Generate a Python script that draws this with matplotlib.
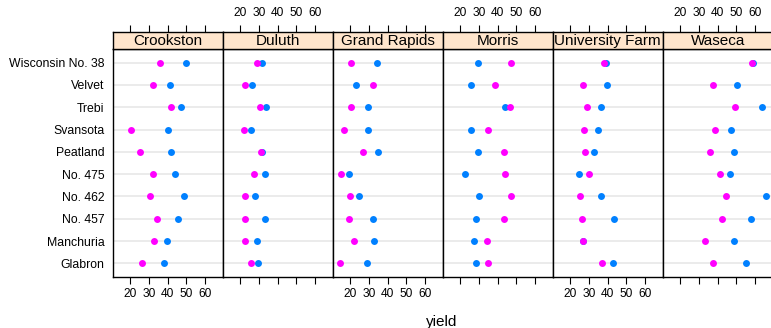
import matplotlib
matplotlib.use("Agg")
import matplotlib.pyplot as plt

plt.rcParams['font.family'] = ['Liberation Sans', 'DejaVu Sans']

# barley yields, varieties listed bottom -> top
varieties = ["Glabron", "Manchuria", "No. 457", "No. 462", "No. 475",
             "Peatland", "Svansota", "Trebi", "Velvet", "Wisconsin No. 38"]
sites = ["Crookston", "Duluth", "Grand Rapids", "Morris", "University Farm", "Waseca"]

# blue series (1931)
yield_1931 = {
    "Crookston":       [38.13, 39.93, 45.67, 48.57, 44.10, 41.60, 40.47, 46.93, 41.33, 49.87],
    "Duluth":          [29.67, 28.97, 33.60, 28.10, 33.07, 32.00, 25.70, 33.93, 26.30, 31.60],
    "Grand Rapids":    [29.13, 32.97, 32.17, 24.93, 19.70, 34.70, 29.67, 29.77, 23.03, 34.47],
    "Morris":          [28.77, 27.43, 28.70, 30.37, 22.60, 29.87, 25.77, 43.77, 26.13, 29.47],
    "University Farm": [43.07, 27.00, 43.27, 36.60, 24.67, 32.77, 35.13, 36.57, 39.90, 39.30],
    "Waseca":          [55.20, 48.87, 58.10, 65.77, 46.77, 48.57, 47.33, 63.83, 50.23, 58.80],
}
# magenta series (1932)
yield_1932 = {
    "Crookston":       [26.17, 32.97, 34.33, 30.53, 32.13, 25.23, 20.63, 41.83, 32.07, 35.90],
    "Duluth":          [25.87, 22.57, 22.70, 22.50, 27.37, 31.37, 22.23, 30.60, 22.47, 29.33],
    "Grand Rapids":    [14.43, 22.13, 19.47, 19.90, 15.23, 26.77, 16.63, 20.63, 32.23, 20.67],
    "Morris":          [35.13, 34.37, 43.53, 47.00, 44.23, 43.20, 35.03, 46.63, 38.83, 47.17],
    "University Farm": [36.80, 26.90, 26.43, 25.57, 30.00, 28.07, 27.43, 29.07, 26.80, 38.00],
    "Waseca":          [37.73, 33.47, 42.20, 44.70, 41.27, 36.03, 38.50, 49.23, 37.40, 58.17],
}
xticks = [20, 30, 40, 50, 60]

W, H = 771, 328
fig = plt.figure(figsize=(W / 100, H / 100), dpi=100)

left0, pw = 112.7, 110.0
strip_top, panel_top, panel_bot = 31.7, 49.3, 276.7
xlim = (10.8, 69.4)
ypos = list(range(1, len(varieties) + 1))

for i, site in enumerate(sites):
    x0 = left0 + i * pw
    ax = fig.add_axes([x0 / W, 1 - panel_bot / H, pw / W, (panel_bot - panel_top) / H])
    sax = fig.add_axes([x0 / W, 1 - panel_top / H, pw / W, (panel_top - strip_top) / H])

    for y in ypos:
        ax.axhline(y, color="#e6e6e6", lw=1.1, zorder=1)
    ax.plot(yield_1931[site], ypos, "o", color="#0080ff", ms=5.0, mec="none", zorder=3)
    ax.plot(yield_1932[site], ypos, "o", color="#ff00ff", ms=5.0, mec="none", zorder=4)

    ax.set_xlim(xlim)
    ax.set_ylim(0.4, len(varieties) + 0.6)
    ax.set_xticks(xticks)
    ax.tick_params(axis="x", direction="out", length=5, width=0.8, pad=3, labelsize=8.6)
    if i % 2 == 1:
        ax.set_xticklabels([])
    if i == 0:
        ax.set_yticks(ypos)
        ax.set_yticklabels(varieties)
        ax.tick_params(axis="y", length=0, pad=6, labelsize=8.8)
    else:
        ax.set_yticks([])
    for sp in ax.spines.values():
        sp.set_linewidth(1.0)

    # strip with site name
    sax.set_facecolor("#ffe5cc")
    sax.set_xlim(xlim)
    sax.set_yticks([])
    sax.xaxis.tick_top()
    sax.set_xticks(xticks)
    sax.tick_params(axis="x", direction="out", length=5, width=0.8, pad=4, labelsize=8.6)
    if i % 2 == 0:
        sax.set_xticklabels([])
    sax.text(0.5, 0.45, site, transform=sax.transAxes, ha="center", va="center", fontsize=11)
    for sp in sax.spines.values():
        sp.set_linewidth(1.0)

fig.text(442 / W, 1 - 322 / H, "yield", ha="center", va="center", fontsize=11)

fig.savefig("out.png", dpi=100)
